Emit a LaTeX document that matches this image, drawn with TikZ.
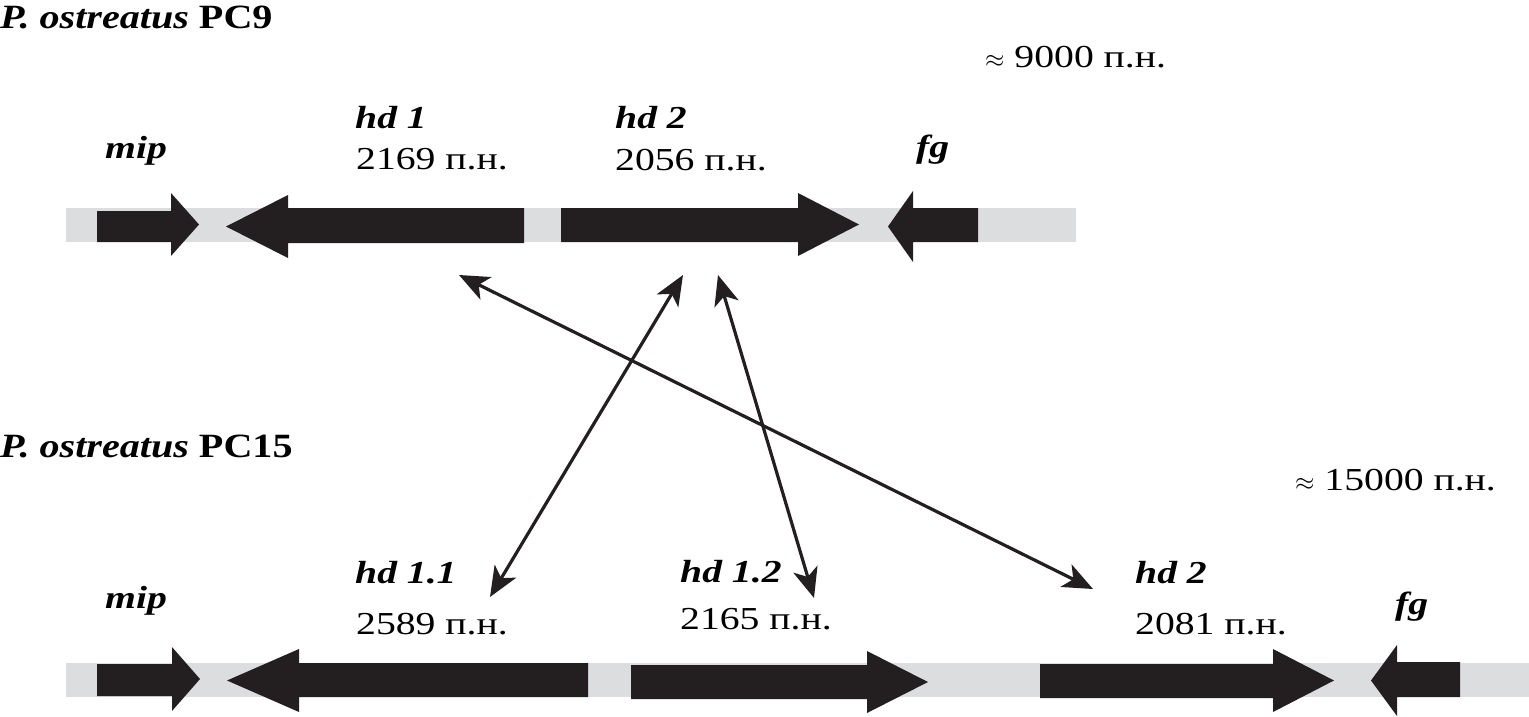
\documentclass[tikz,border=0pt]{standalone}
\usepackage{fontspec}
\setmainfont[FakeStretch=1.24]{Liberation Serif}
\newfontfamily\ttlfont[FakeStretch=1.18]{Liberation Serif}
\usetikzlibrary{arrows.meta}
\definecolor{genecol}{HTML}{231F20}
\definecolor{barcol}{HTML}{DCDDDE}
\newcommand{\genearrow}[7]{% x0, xbase, xtip, shafttop, shaftbottom, headtop, headbottom
  \fill[genecol] (#1,#4) -- (#2,#4) -- (#2,#6) -- (#3,{(#6+#7)/2}) -- (#2,#7) -- (#2,#5) -- (#1,#5) -- cycle;}
\tikzset{
  lbl/.style={anchor=base west, inner sep=0pt, font=\fontsize{32}{38}\selectfont},
  glbl/.style={lbl, font=\fontsize{32}{38}\selectfont\bfseries\itshape},
  ttl/.style={anchor=base west, inner sep=0pt, font=\ttlfont\fontsize{34}{40}\selectfont\bfseries},
  link/.style={line width=3.2pt, genecol, {Stealth[length=30pt,width=25pt,inset=8pt]}-{Stealth[length=30pt,width=25pt,inset=8pt]}}
}
\begin{document}
\begin{tikzpicture}[x=1pt,y=-1pt]
\useasboundingbox (0,0) rectangle (1529,716);
% bars
\fill[barcol] (66,208) rectangle (1076,242);
\fill[barcol] (66,663) rectangle (1529,697);
% top genes
\genearrow{97}{171}{199}{211}{242}{193}{256}
\genearrow{524}{288}{226}{208}{243}{195}{258}
\genearrow{561}{798}{859}{208}{242}{193}{256}
\genearrow{978}{913}{888}{208}{242}{191}{262}
% bottom genes
\genearrow{97}{172}{200}{664}{696}{647}{711}
\genearrow{588}{299}{227}{663}{697}{649}{712}
\genearrow{631}{867}{928}{665}{699}{651}{713}
\genearrow{1040}{1273}{1334}{664}{698}{649}{712}
\genearrow{1460}{1397}{1371}{662}{697}{645}{716}
% titles
\node[ttl] (t1) at (0,28) {\itshape P. ostreatus\/ \upshape PC9};
\node[ttl] (t2) at (0,457) {\itshape P. ostreatus\/ \upshape PC15};
\node[lbl] (s1) at (985,67) {$\approx$ 9000 п.н.};
\node[lbl] (s2) at (1295,490) {$\approx$ 15000 п.н.};
% top labels
\node[glbl] (mipA) at (105,158) {mip};
\node[glbl] (hdA) at (355,128) {hd 1};
\node[lbl] (hdAn) at (356,169) {2169 п.н.};
\node[glbl] (hdB) at (615,128) {hd 2};
\node[lbl] (hdBn) at (615,170) {2056 п.н.};
\node[glbl] (fgA) at (916,157) {fg};
% bottom labels
\node[glbl] (mipB) at (105,608) {mip};
\node[glbl] (hdC) at (355,583) {hd 1.1};
\node[lbl] (hdCn) at (356,634) {2589 п.н.};
\node[glbl] (hdD) at (680,582) {hd 1.2};
\node[lbl] (hdDn) at (680,629) {2165 п.н.};
\node[glbl] (hdE) at (1135,583) {hd 2};
\node[lbl] (hdEn) at (1135,634) {2081 п.н.};
\node[glbl] (fgB) at (1395,614) {fg};
% connector ends
\coordinate (a1) at (459,275);
\coordinate (a2) at (1093,589);
\coordinate (b1) at (683,275);
\coordinate (b2) at (490,597);
\coordinate (c1) at (718,275);
\coordinate (c2) at (814,598);
\draw[link] (a1) -- (a2);
\draw[link] (b1) -- (b2);
\draw[link] (c1) -- (c2);
\end{tikzpicture}
\end{document}
